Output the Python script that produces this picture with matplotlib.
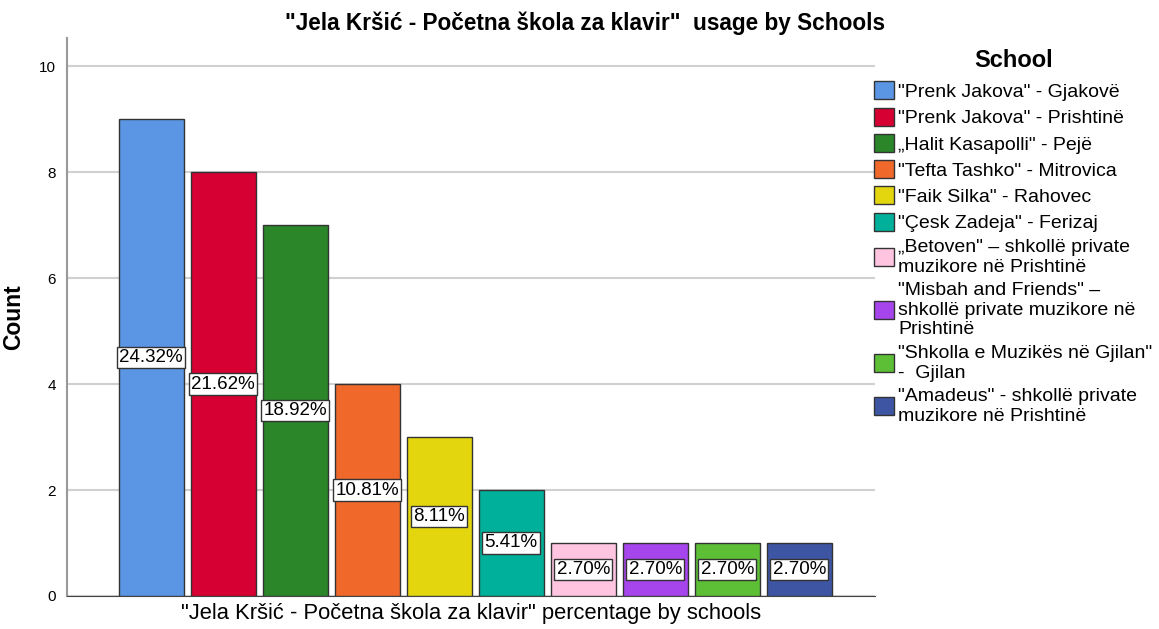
import matplotlib.pyplot as plt
from matplotlib.patches import Patch

plt.rcParams['font.family'] = ['Liberation Sans', 'DejaVu Sans']

# data
schools = [
    '"Prenk Jakova" - Gjakovë',
    '"Prenk Jakova" - Prishtinë',
    '„Halit Kasapolli" - Pejë',
    '"Tefta Tashko" - Mitrovica',
    '"Faik Silka" - Rahovec',
    '"Çesk Zadeja" - Ferizaj',
    '„Betoven" – shkollë private\nmuzikore në Prishtinë',
    '"Misbah and Friends" –\nshkollë private muzikore në\nPrishtinë',
    '"Shkolla e Muzikës në Gjilan"\n-  Gjilan',
    '"Amadeus" - shkollë private\nmuzikore në Prishtinë',
]
counts = [9, 8, 7, 4, 3, 2, 1, 1, 1, 1]
pct_labels = ['24.32%', '21.62%', '18.92%', '10.81%', '8.11%', '5.41%',
              '2.70%', '2.70%', '2.70%', '2.70%']
colors = ['#5a96e3', '#d60032', '#2a8629', '#f0692b', '#e3d60f', '#00b09b',
          '#fec4e0', '#a745ec', '#5cbf36', '#3d55a3']

fig = plt.figure(figsize=(11.59, 6.29), dpi=100)
ax = fig.add_axes([0.0578, 0.0525, 0.697, 0.887])

x = list(range(len(counts)))
ax.bar(x, counts, width=0.9, color=colors, edgecolor='#333333', linewidth=1, zorder=3)

for xi, c, lab in zip(x, counts, pct_labels):
    ax.text(xi, c / 2, lab, ha='center', va='center', fontsize=13.5, zorder=4,
            bbox=dict(boxstyle='square,pad=0.12', fc='white', ec='#333333', lw=1))

ax.set_xlim(-1.17, 10.05)
ax.set_ylim(0, 10.53)
ax.set_yticks([0, 2, 4, 6, 8, 10])
ax.set_xticks([])
ax.yaxis.grid(True, color='#d0d0d0', linewidth=1.5, zorder=0)
ax.tick_params(axis='y', length=0, pad=8, labelsize=11)
for s in ['top', 'right']:
    ax.spines[s].set_visible(False)
ax.spines['left'].set_color('#999999')
ax.spines['left'].set_linewidth(1.5)
ax.spines['bottom'].set_color('#444444')

ax.set_ylabel('Count', fontsize=16.5, fontweight='bold', labelpad=10)
ax.set_xlabel('"Jela Kršić - Početna škola za klavir" percentage by schools',
              fontsize=15.8, labelpad=5)
fig.suptitle('"Jela Kršić - Početna škola za klavir"  usage by Schools',
             x=0.505, y=0.982, fontsize=16.3, fontweight='bold')

handles = [Patch(facecolor=c, edgecolor='#333333', label=s) for c, s in zip(colors, schools)]
leg = fig.legend(handles=handles, loc='upper left', bbox_to_anchor=(0.7475, 0.935),
                 frameon=False, fontsize=14, title='School',
                 title_fontproperties={'weight': 'bold', 'size': 17},
                 handlelength=1.0, handleheight=1.05, handletextpad=0.25,
                 labelspacing=0.34, borderaxespad=0)
for t in leg.get_texts():
    t.set_linespacing(1.2)
leg._legend_box.sep = 7

fig.savefig('out.png', dpi=100)
